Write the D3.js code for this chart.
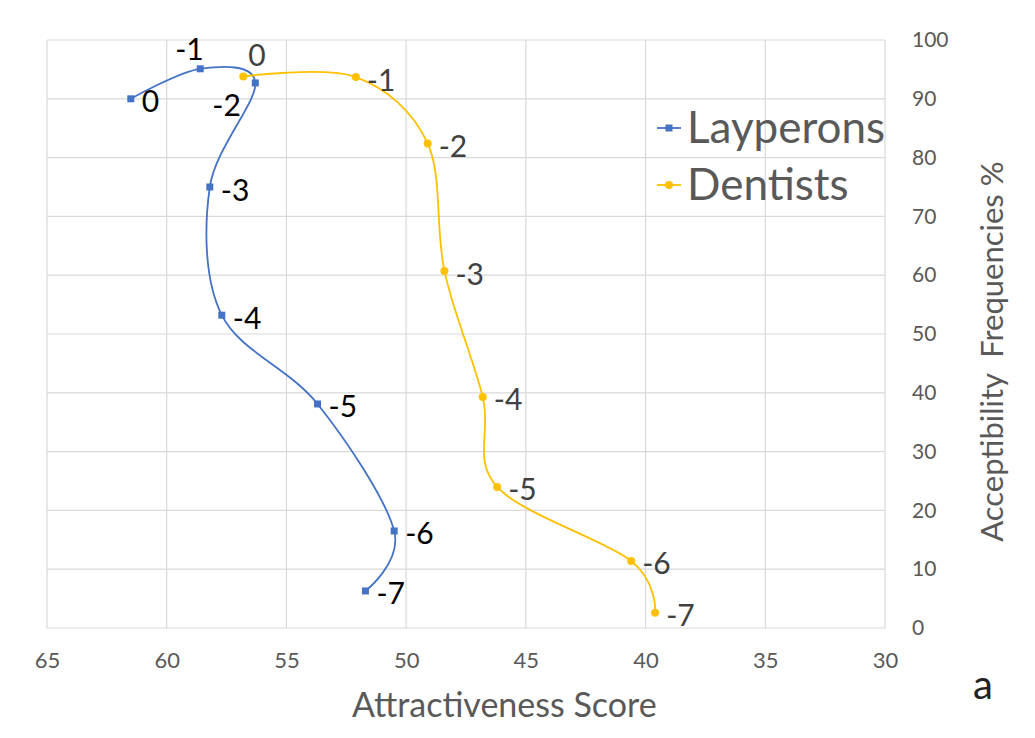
<!DOCTYPE html>
<html>
<head>
<meta charset="utf-8">
<script src="https://cdn.jsdelivr.net/npm/d3@7"></script>
<style>
  body { margin: 0; background: #fff; }
  svg { display: block; }
  svg text { font-family: Lato, "Open Sans", sans-serif; }
</style>
</head>
<body>
<svg id="chart" width="1035" height="738"></svg>
<script>
// data
const pointLabels = ['0', '-1', '-2', '-3', '-4', '-5', '-6', '-7'];
const laypersonScore = [61.5, 58.6, 56.3, 58.2, 57.7, 53.7, 50.5, 51.7];
const laypersonFreq = [90.0, 95.1, 92.7, 75.0, 53.2, 38.1, 16.5, 6.3];
const dentistScore = [56.8, 52.1, 49.1, 48.4, 46.8, 46.2, 40.6, 39.6];
const dentistFreq = [93.8, 93.7, 82.4, 60.7, 39.3, 24.0, 11.4, 2.6];
const xTicks = [65, 60, 55, 50, 45, 40, 35, 30];
const yTicks = [0, 10, 20, 30, 40, 50, 60, 70, 80, 90, 100];

const series = [
  { name: 'Layperons', xs: laypersonScore, ys: laypersonFreq, color: '#4472C4', marker: 'square', labelColor: '#000',
    // label offsets for the few that are not placed to the right
    offsets: { 1: [-25, -19], 2: [-43, 23] } },
  { name: 'Dentists', xs: dentistScore, ys: dentistFreq, color: '#FFC000', marker: 'circle', labelColor: '#404040',
    offsets: { 0: [5, -21] } }
];

const svg = d3.select('#chart');
const margin = { top: 40, right: 150, bottom: 110, left: 47 };
const W = 1035, H = 738;
const width = W - margin.left - margin.right;
const height = H - margin.top - margin.bottom;

const x = d3.scaleLinear().domain([65, 30]).range([0, width]);
const y = d3.scaleLinear().domain([0, 100]).range([height, 0]);

const g = svg.append('g').attr('transform', `translate(${margin.left},${margin.top})`);

// grid
g.append('g')
  .selectAll('line.v')
  .data(xTicks)
  .join('line')
  .attr('x1', d => x(d)).attr('x2', d => x(d))
  .attr('y1', 0).attr('y2', height)
  .attr('stroke', '#d9d9d9').attr('stroke-width', 1.2);

g.append('g')
  .selectAll('line.h')
  .data(yTicks)
  .join('line')
  .attr('x1', 0).attr('x2', width)
  .attr('y1', d => y(d)).attr('y2', d => y(d))
  .attr('stroke', '#d9d9d9').attr('stroke-width', 1.2);

// x axis labels
const xAxis = g.append('g')
  .attr('transform', `translate(0,${height})`)
  .call(d3.axisBottom(x).tickValues(xTicks).tickSize(0).tickPadding(24));
xAxis.select('.domain').remove();
xAxis.selectAll('text').attr('fill', '#595959').style('font-size', '22px');

// y axis labels on the right
const yAxis = g.append('g')
  .attr('transform', `translate(${width},0)`)
  .call(d3.axisRight(y).tickValues(yTicks).tickSize(0).tickPadding(27));
yAxis.select('.domain').remove();
yAxis.selectAll('text').attr('fill', '#595959').style('font-size', '21px');

// axis titles
svg.append('text')
  .attr('x', margin.left + x(45.9))
  .attr('y', 717)
  .attr('text-anchor', 'middle')
  .attr('fill', '#595959')
  .style('font-size', '34px')
  .text('Attractiveness Score');

svg.append('text')
  .attr('transform', `translate(1003,${margin.top + y(47)}) rotate(-90)`)
  .attr('text-anchor', 'middle')
  .attr('fill', '#595959')
  .style('font-size', '31px')
  .attr('xml:space', 'preserve')
  .text('Acceptibility  Frequencies %');

svg.append('text')
  .attr('x', 983).attr('y', 699)
  .attr('text-anchor', 'middle')
  .attr('fill', '#222')
  .style('font-size', '40px')
  .text('a');

// lines, markers, labels
const line = d3.line().curve(d3.curveCardinal.tension(0));

series.forEach(s => {
  const pts = s.xs.map((v, i) => [x(v), y(s.ys[i])]);
  g.append('path')
    .attr('d', line(pts))
    .attr('fill', 'none')
    .attr('stroke', s.color)
    .attr('stroke-width', 1.8);

  if (s.marker === 'square') {
    g.selectAll(null).data(pts).join('rect')
      .attr('x', d => d[0] - 3.5).attr('y', d => d[1] - 3.5)
      .attr('width', 7).attr('height', 7)
      .attr('fill', s.color);
  } else {
    g.selectAll(null).data(pts).join('circle')
      .attr('cx', d => d[0]).attr('cy', d => d[1]).attr('r', 4)
      .attr('fill', s.color);
  }

  g.selectAll(null).data(pts).join('text')
    .attr('x', (d, i) => d[0] + (s.offsets[i] ? s.offsets[i][0] : 11))
    .attr('y', (d, i) => d[1] + (s.offsets[i] ? s.offsets[i][1] : 3))
    .attr('dy', '0.35em')
    .attr('fill', s.labelColor)
    .style('font-size', '30px')
    .text((d, i) => pointLabels[i]);
});

// legend
const legend = svg.append('g').attr('transform', 'translate(657,128)');
series.forEach((s, i) => {
  const row = legend.append('g').attr('transform', `translate(0,${i * 57})`);
  row.append('line').attr('x1', 0).attr('x2', 24).attr('y1', 0).attr('y2', 0)
    .attr('stroke', s.color).attr('stroke-width', 1.8);
  if (s.marker === 'square') {
    row.append('rect').attr('x', 8.5).attr('y', -3.5).attr('width', 7).attr('height', 7).attr('fill', s.color);
  } else {
    row.append('circle').attr('cx', 12).attr('cy', 0).attr('r', 4).attr('fill', s.color);
  }
  row.append('text')
    .attr('x', 30).attr('y', 0).attr('dy', '0.35em')
    .attr('fill', '#595959')
    .style('font-size', '44px')
    .text(s.name);
});
</script>
</body>
</html>
